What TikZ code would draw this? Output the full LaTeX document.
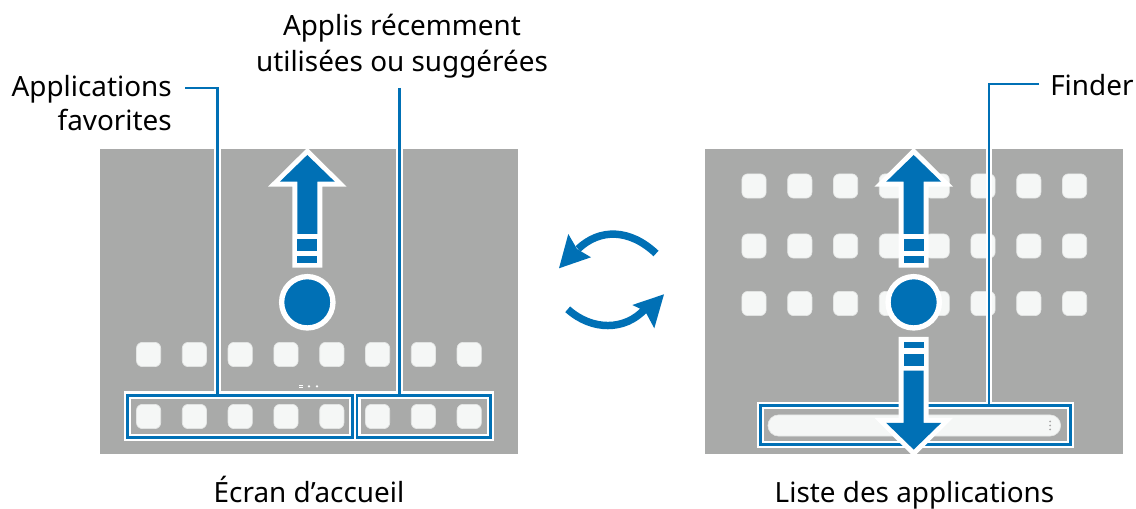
\documentclass[tikz,border=0pt]{standalone}
\usepackage{fontspec}
\setmainfont{Noto Sans}
\definecolor{panelgrey}{HTML}{A9AAA9}
\definecolor{samblue}{HTML}{0070B5}
\definecolor{iconwhite}{HTML}{F5F7F6}
\definecolor{iconedge}{HTML}{E4E6E5}
\tikzset{
  panel/.style={fill=panelgrey,draw=none},
  appicon/.style={draw=iconedge,line width=.5pt,fill=iconwhite,rounded corners=4.5pt,minimum size=18.2pt,inner sep=0pt},
  halo/.style={draw=white,line width=5.6pt,line join=miter,fill=none},
  boxblue/.style={draw=samblue,line width=2.2pt,fill=none},
  leader/.style={draw=samblue,line width=2.1pt},
  lab/.style={font=\fontsize{20.9pt}{24pt}\selectfont,text=black,inner sep=0pt,anchor=base},
  bluefill/.style={fill=samblue,draw=none},
  whitefill/.style={fill=white,draw=none},
  cyc/.style={draw=samblue,line width=5.6pt}
}
\newcommand{\swipearrow}[2]{%
  \begin{scope}[shift={(#1,302.3)},yscale=#2]
    \fill[whitefill] (0,-154.5) -- (39.3,-115.6) -- (15,-115.6) -- (15,-34.6) -- (-15,-34.6) -- (-15,-115.6) -- (-39.3,-115.6) -- cycle;
    \fill[bluefill] (0,-147.3) -- (27.5,-120.6) -- (10,-120.6) -- (10,-68.3) -- (-10,-68.3) -- (-10,-120.6) -- (-27.5,-120.6) -- cycle;
    \fill[bluefill] (-10,-63.3) rectangle (10,-51.3);
    \fill[bluefill] (-10,-46) rectangle (10,-39.6);
  \end{scope}}
\begin{document}
\begin{tikzpicture}[x=.75pt,y=-.75pt]
\useasboundingbox (0,0) rectangle (1136,509);
% panels
\fill[panel] (100,149) rectangle (518,454);
\fill[panel] (705,149) rectangle (1123,454);
% left icons
\foreach \n/\x in {1/148.6,2/194.4,3/240.2,4/286,5/331.8,6/377.6,7/423.4,8/469.2}{
  \node[appicon] (la\n) at (\x,354.5) {};
}
\foreach \n/\x in {1/148.6,2/194.4,3/240.2,4/286,5/331.8,6/377.6,7/423.4,8/469.2}{
  \node[appicon] (lb\n) at (\x,416.5) {};
}
% right icons
\foreach \n/\x in {1/754,2/799.8,3/845.6,4/891.4,5/937.2,6/983,7/1028.8,8/1074.6}{
  \node[appicon] (ra\n) at (\x,186) {};
  \node[appicon] (rb\n) at (\x,246) {};
  \node[appicon] (rc\n) at (\x,303.5) {};
}
% page dots
\fill[white] (298.8,385) rectangle (303.2,385.8);
\fill[white] (298.8,387) rectangle (303.2,387.8);
\fill[white] (309,386.4) circle (1.3);
\fill[white] (317,386.4) circle (1.3);
% search bar
\node[appicon,minimum size=0pt,minimum width=219.5pt,minimum height=15.8pt,rounded corners=7.9pt] (search) at (914.3,425.5) {};
\foreach \yy in {421.5,425.5,429.5}{\fill[gray!70] (1050,\yy) circle (1);}
% boxes
\node[inner sep=0pt,minimum width=168pt,minimum height=31.5pt] (boxfav) at (240,416.5) {};
\node[inner sep=0pt,minimum width=99.75pt,minimum height=31.5pt] (boxrec) at (423.75,416.5) {};
\node[inner sep=0pt,minimum width=232.1pt,minimum height=28.5pt] (boxfind) at (915.25,425) {};
\draw[halo] (boxfav.south west) rectangle (boxfav.north east);
\draw[halo] (boxrec.south west) rectangle (boxrec.north east);
\draw[halo,line width=5pt] (boxfind.south west) rectangle (boxfind.north east);
% labels
\node[lab] (recA) at (402,36) {Applis récemment};
\node[lab] (recB) at (402,72) {utilisées ou suggérées};
\node[lab,anchor=base east] (favA) at (172,97) {Applications};
\node[lab,anchor=base east] (favB) at (172,131) {favorites};
\node[lab,anchor=base west] (finder) at (1050,96) {Finder};
\node[lab] (home) at (309,503) {Écran d’accueil};
\node[lab] (list) at (914.5,503) {Liste des applications};
% leaders
\coordinate (favx) at (217.5,395);
\coordinate (recx) at (399.5,88);
\coordinate (findx) at (989,405);
\coordinate (favstart) at (185,88);
\coordinate (findstart) at (1039,84);
\draw[draw=white,line width=5.6pt] (217.5,149) -- (favx);
\draw[draw=white,line width=5.6pt] (399.5,149) -- (recx |- boxrec.north);
\draw[draw=white,line width=5pt] (989,149) -- (findx);
\draw[boxblue] (boxfav.south west) rectangle (boxfav.north east);
\draw[boxblue] (boxrec.south west) rectangle (boxrec.north east);
\draw[boxblue] (boxfind.south west) rectangle (boxfind.north east);
\draw[leader] (favstart) -| (favx);
\draw[leader] (recx) -- (recx |- boxrec.north);
\draw[leader] (findstart) -| (findx);
% swipe arrows
\swipearrow{307.3}{1}
\swipearrow{913.7}{1}
\swipearrow{913.7}{-1}
\node[circle,fill=samblue,draw=white,line width=4pt,minimum size=38.5pt,inner sep=0pt] (dotL) at (307.3,302.3) {};
\node[circle,fill=samblue,draw=white,line width=4pt,minimum size=38.5pt,inner sep=0pt] (dotR) at (913.7,302.3) {};
% cycle arrows
\draw[cyc] (656,253.5) .. controls (630,229) and (600,228) .. (578,249);
\fill[bluefill] (559,268.3) -- (568.3,234) -- (577,249) -- (591,257.3) -- cycle;
\draw[cyc] (567.7,309.3) .. controls (592,331) and (625,331) .. (645,309);
\fill[bluefill] (664,294.3) -- (632.3,305) -- (645,311) -- (654.3,328.3) -- cycle;
\end{tikzpicture}
\end{document}
